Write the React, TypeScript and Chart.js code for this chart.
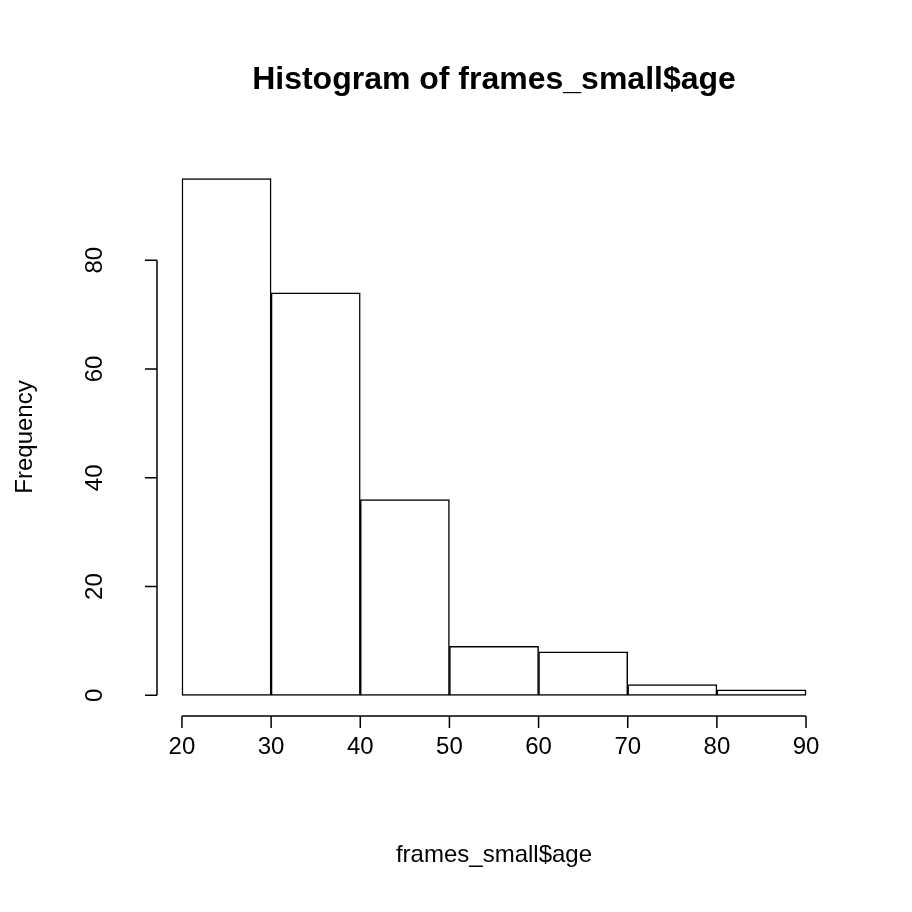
import React, { useEffect, useRef } from "react";
import { Chart, registerables } from "chart.js";
Chart.register(...registerables);

const binMids = [25, 35, 45, 55, 65, 75, 85];
const counts = [95, 74, 36, 9, 8, 2, 1];
const xTicks = [20, 30, 40, 50, 60, 70, 80, 90];
const yTicks = [0, 20, 40, 60, 80];

const FONT = "'Liberation Sans', Arial, Helvetica, sans-serif";

const rAxes = {
  id: "rAxes",
  afterDraw(chart: any) {
    const { ctx, chartArea } = chart;
    const xs = chart.scales.x, ys = chart.scales.y;
    ctx.save();
    ctx.strokeStyle = "#000";
    ctx.fillStyle = "#000";
    ctx.lineWidth = 1.5;
    const yb = chartArea.bottom;
    ctx.beginPath();
    ctx.moveTo(xs.getPixelForValue(xTicks[0]), yb);
    ctx.lineTo(xs.getPixelForValue(xTicks[xTicks.length - 1]), yb);
    xTicks.forEach((t) => {
      const p = xs.getPixelForValue(t);
      ctx.moveTo(p, yb);
      ctx.lineTo(p, yb + 12);
    });
    ctx.stroke();
    ctx.font = `24px ${FONT}`;
    ctx.textAlign = "center";
    ctx.textBaseline = "middle";
    xTicks.forEach((t) => ctx.fillText(String(t), xs.getPixelForValue(t), yb + 31));
    const xl = chartArea.left;
    ctx.beginPath();
    ctx.moveTo(xl, ys.getPixelForValue(yTicks[0]));
    ctx.lineTo(xl, ys.getPixelForValue(yTicks[yTicks.length - 1]));
    yTicks.forEach((t) => {
      const p = ys.getPixelForValue(t);
      ctx.moveTo(xl, p);
      ctx.lineTo(xl - 12, p);
    });
    ctx.stroke();
    yTicks.forEach((t) => {
      ctx.save();
      ctx.translate(xl - 62, ys.getPixelForValue(t));
      ctx.rotate(-Math.PI / 2);
      ctx.fillText(String(t), 0, 0);
      ctx.restore();
    });
    ctx.fillText("frames_small$age", (chartArea.left + chartArea.right) / 2, 855);
    ctx.save();
    ctx.translate(25, (chartArea.top + chartArea.bottom) / 2);
    ctx.rotate(-Math.PI / 2);
    ctx.fillText("Frequency", 0, 0);
    ctx.restore();
    ctx.font = `bold 32px ${FONT}`;
    ctx.fillText("Histogram of frames_small$age", (chartArea.left + chartArea.right) / 2, 80);
    ctx.restore();
  },
};

export default function App() {
  const ref = useRef<HTMLCanvasElement>(null);
  useEffect(() => {
    const chart = new Chart(ref.current!, {
      type: "bar",
      data: {
        datasets: [
          {
            data: binMids.map((m, i) => ({ x: m, y: counts[i] })),
            backgroundColor: "#fff",
            borderColor: "#000",
            borderWidth: 1.5,
            borderSkipped: false,
            barPercentage: 1,
            categoryPercentage: 1,
          },
        ],
      },
      options: {
        animation: false,
        responsive: false,
        layout: { padding: { left: 157, right: 81, top: 158, bottom: 196 } },
        plugins: { legend: { display: false }, tooltip: { enabled: false } },
        scales: {
          x: { type: "linear", min: 17.2, max: 92.8, offset: false, display: false },
          y: { type: "linear", min: -3.8, max: 98.8, display: false },
        },
      },
      plugins: [rAxes],
    });
    return () => chart.destroy();
  }, []);
  return (
    <div style={{ position: "fixed", left: 0, top: 0, width: 912, height: 912, background: "#fff" }}>
      <canvas ref={ref} width={912} height={912} style={{ width: 912, height: 912 }} />
    </div>
  );
}
